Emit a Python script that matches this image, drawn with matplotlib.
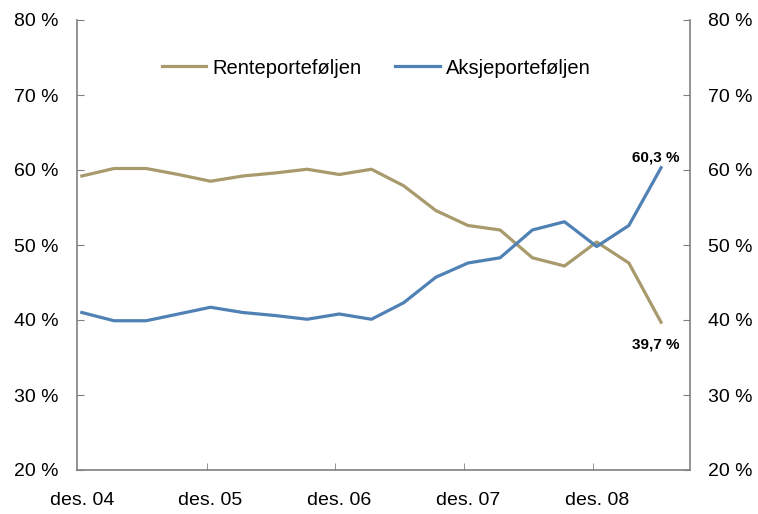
import matplotlib
matplotlib.use("Agg")
import matplotlib.pyplot as plt

plt.rcParams['font.family'] = ['Liberation Sans', 'DejaVu Sans']

# quarterly, des. 04 to jun. 09
quarters = list(range(19))
tick_labels = ["des. 04", "des. 05", "des. 06", "des. 07", "des. 08"]
tick_pos = [0, 4, 8, 12, 16]
rente = [59.2, 60.2, 60.2, 59.4, 58.5, 59.2, 59.6, 60.1, 59.4, 60.1,
         57.9, 54.6, 52.6, 52.0, 48.3, 47.2, 50.4, 47.6, 39.7]
aksje = [41.0, 39.9, 39.9, 40.8, 41.7, 41.0, 40.6, 40.1, 40.8, 40.1,
         42.3, 45.7, 47.6, 48.3, 52.0, 53.1, 49.8, 52.6, 60.3]

fig = plt.figure(figsize=(7.58, 5.14), dpi=100)
ax = fig.add_axes([77/758, 1-470/514, (690-77)/758, (470-20)/514])

c_rente = "#A89A6C"
c_aksje = "#4F81B4"
ax.plot(quarters, rente, color=c_rente, lw=2.3, label="Renteporteføljen")
ax.plot(quarters, aksje, color=c_aksje, lw=2.3, label="Aksjeporteføljen")

ax.set_xlim(-0.15, 18.9)
ax.set_ylim(20, 80)
ax.set_yticks(range(20, 81, 10))
ax.set_yticklabels([f"{v} %" for v in range(20, 81, 10)])
ax.set_xticks(tick_pos)
ax.set_xticklabels(tick_labels)
ax.set_xticks([p - 0.12 for p in tick_pos[1:]], minor=True)

for s in ["left", "right", "bottom"]:
    ax.spines[s].set_color("#808080")
    ax.spines[s].set_linewidth(1.2)
ax.spines["top"].set_visible(False)

ax.tick_params(axis="y", direction="in", length=5, color="#808080",
               left=True, right=True, labelleft=True, labelright=True,
               labelsize=14, pad=13)
ax.tick_params(axis="x", which="major", length=0, labelsize=14, pad=16)
ax.tick_params(axis="x", which="minor", direction="in", length=5, color="#808080")

ax.annotate("60,3 %", (quarters[-1], aksje[-1]), xytext=(-4, 2),
            textcoords="offset points", ha="center", va="bottom",
            fontsize=11, fontweight="bold")
ax.annotate("39,7 %", (quarters[-1], rente[-1]), xytext=(-4, -11),
            textcoords="offset points", ha="center", va="top",
            fontsize=11, fontweight="bold")

fig.legend(loc="center", bbox_to_anchor=(376/758, 1-68/514), ncol=2,
           frameon=False, fontsize=14.5, handlelength=2.2, handletextpad=0.3,
           columnspacing=1.7)

fig.savefig("out.png", dpi=100)
